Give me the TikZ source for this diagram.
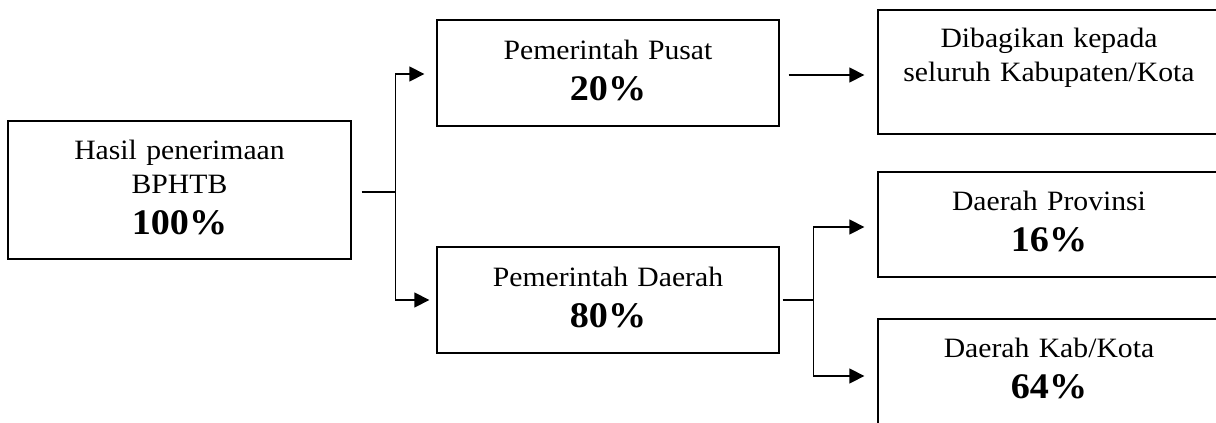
\documentclass[tikz,border=0pt]{standalone}
\usepackage{fontspec}
\setmainfont{Liberation Serif}[FakeStretch=1.06]
\usetikzlibrary{arrows.meta,calc}
\begin{document}
\begin{tikzpicture}[x=1pt,y=-1pt,
  box/.style={draw,line width=1.3pt,minimum width=342pt,inner sep=0pt,
    text width=330pt,align=center,font=\fontsize{28}{34}\selectfont},
  conn/.style={line width=1.3pt},
  arr/.style={conn,-{Triangle[length=15pt,width=15pt]}}]
\clip (0,0) rectangle (1216,423);
\fill[white] (0,0) rectangle (1216,423);
\newcommand{\pct}[1]{\par\fontsize{36}{41}\selectfont\bfseries #1\rule[-6pt]{0pt}{6pt}\par}
\node[box,minimum width=343pt,minimum height=138pt] (b1) at (179.5,190)
  {Hasil penerimaan\par BPHTB\pct{100\%}};
\node[box,minimum height=106pt] (b2) at (608,73) {Pemerintah Pusat\pct{20\%}};
\node[box,minimum height=106pt] (b4) at (608,300) {Pemerintah Daerah\pct{80\%}};
\node[box,minimum height=124pt] (b3) at (1049,72)
  {Dibagikan kepada\par seluruh Kabupaten/Kota\par\mbox{}\par};
\node[box,minimum height=105pt] (b5) at (1049,224.5) {Daerah Provinsi\pct{16\%}};
\node[box,minimum height=105pt] (b6) at (1049,371.5) {Daerah Kab/Kota\pct{64\%}};
% fork 1
\coordinate (f1) at ($(b1.east)+(44,2)$);
\draw[conn] ($(b1.east)+(10,2)$) -- (f1);
\draw[arr] (f1) |- ($(b2.west)+(-12,1)$);
\draw[arr] (f1) |- ($(b4.west)+(-7,0)$);
% pusat to kabupaten
\draw[arr] ($(b2.east)+(9,2)$) -- ($(b3.west |- b2.east)+(-13,2)$);
% fork 2
\coordinate (f2) at ($(b4.east)+(34,0)$);
\draw[conn] ($(b4.east)+(3,0)$) -- (f2);
\draw[arr] (f2) |- ($(b5.west)+(-13,2.5)$);
\draw[arr] (f2) |- ($(b6.west)+(-13,4.5)$);
\end{tikzpicture}
\end{document}
